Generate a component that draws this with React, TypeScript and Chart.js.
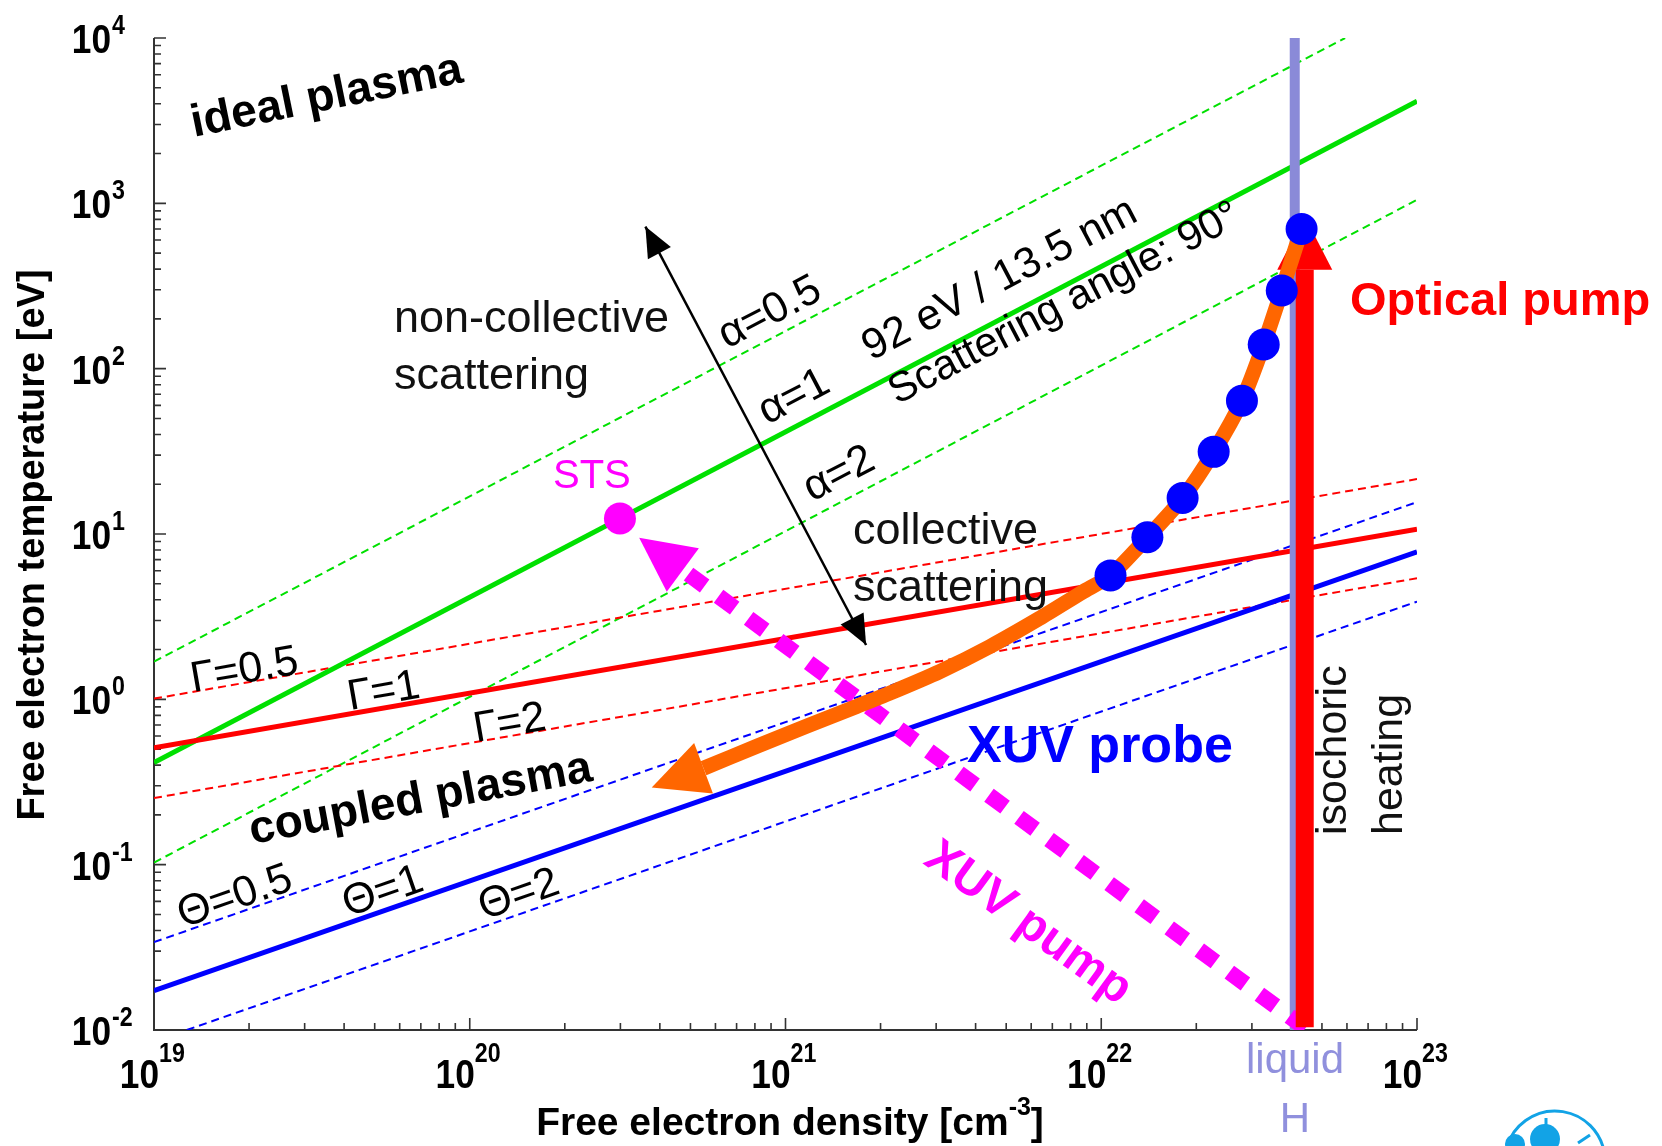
import React, { useEffect, useRef } from 'react';
import { Chart, registerables } from 'chart.js';

Chart.register(...registerables);

// ---------------- data ----------------
const densityMin = 1e19;
const densityMax = 1e23;
const tempMin = 1e-2;
const tempMax = 1e4;

const xMajorTicks = [1e19, 1e20, 1e21, 1e22, 1e23];
const xTickExponents = ['19', '20', '21', '22', '23'];
const yMajorTicks = [1e-2, 1e-1, 1, 1e1, 1e2, 1e3, 1e4];
const yTickExponents = ['-2', '-1', '0', '1', '2', '3', '4'];
const minorMultipliers = [2, 3, 4, 5, 6, 7, 8, 9];

// parameter lines (density endpoints, temperature endpoints)
const fullDensity = [1e19, 1e23];
const alpha05Density = [1e19, 5.92e22];
const alpha05Temp = [1.69, 1e4];
const alpha1Temp = [0.415, 4150];
const alpha2Temp = [0.103, 1050];
const gamma05Temp = [1.01, 21.5];
const gamma1Temp = [0.51, 10.7];
const gamma2Temp = [0.253, 5.4];
const theta05Temp = [0.034, 15.6];
const theta1Temp = [0.0173, 7.8];
const theta2Density = [1.27e19, 1e23];
const theta2Temp = [0.01, 3.9];

// liquid hydrogen density
const liquidHDensity = [4.1e22, 4.1e22];
const liquidHTemp = [1e-2, 1e4];

// optical pump (isochoric heating) arrow
const opticalPumpDensity = [4.41e22, 4.41e22];
const opticalPumpTemp = [0.0104, 397];
const opticalPumpTip = [4.41e22, 834];

// XUV pump arrow
const xuvPumpDensity = [4.435e22, 4.73e20];
const xuvPumpTemp = [0.01026, 6.06];
const xuvPumpTip = [3.44e20, 9.5];

// relaxation path (orange)
const pathDensity = [4.31e22, 3.73e22, 3.27e22, 2.79e22, 2.27e22, 1.81e22, 1.40e22, 1.07e22, 8.7e21, 6.36e21, 4.43e21, 3.08e21, 2.14e21, 1.68e21, 1.17e21, 8.15e20, 5.5e20];
const pathTemp = [700, 297, 140, 64, 31.4, 16.5, 9.55, 5.62, 4.44, 3.08, 2.08, 1.47, 1.09, 0.906, 0.69, 0.522, 0.383];
const pathTip = [3.77e20, 0.293];

// simulation points (blue dots)
const simDensity = [4.31e22, 3.73e22, 3.27e22, 2.79e22, 2.27e22, 1.81e22, 1.40e22, 1.07e22];
const simTemp = [700, 297, 140, 64, 31.4, 16.5, 9.55, 5.62];

// STS point
const stsDensity = [2.99e20];
const stsTemp = [12.4];

// collective / non-collective double arrow
const scatterArrowDensity = [3.6e20, 1.8e21];
const scatterArrowTemp = [723, 2.13];

// ---------------- styles ----------------
const FONT = "'Liberation Sans', Arial, sans-serif";
const GREEN = '#00e000';
const RED = '#ff0000';
const BLUE = '#0000ff';
const LAVENDER = '#8a8ad8';
const MAGENTA = '#ff00ff';
const ORANGE = '#ff6600';
const DASH = [8, 5];

const pts = (xs: number[], ys: number[]) => xs.map((x, i) => ({ x, y: ys[i] }));

function lineDs(xs: number[], ys: number[], color: string, width: number, dash: number[] = [], extra: any = {}) {
  return {
    data: pts(xs, ys),
    showLine: true,
    borderColor: color,
    backgroundColor: color,
    borderWidth: width,
    borderDash: dash,
    borderCapStyle: 'butt',
    pointRadius: 0,
    pointHoverRadius: 0,
    tension: 0,
    fill: false,
    ...extra,
  };
}

function pointDs(xs: number[], ys: number[], color: string, radius: number) {
  return {
    data: pts(xs, ys),
    showLine: false,
    backgroundColor: color,
    borderColor: color,
    borderWidth: 0,
    pointRadius: radius,
    pointHoverRadius: radius,
    clip: false,
  };
}

const annotations = [
  { text: 'ideal plasma', x: 194, y: 137, angle: -11.5, font: `bold 46px ${FONT}`, color: '#000' },
  { text: 'non-collective', x: 394, y: 332, angle: 0, font: `45px ${FONT}`, color: '#111' },
  { text: 'scattering', x: 394, y: 389, angle: 0, font: `45px ${FONT}`, color: '#111' },
  { text: 'collective', x: 853, y: 544, angle: 0, font: `45px ${FONT}`, color: '#111' },
  { text: 'scattering', x: 853, y: 601, angle: 0, font: `45px ${FONT}`, color: '#111' },
  { text: 'α=0.5', x: 727, y: 349, angle: -27.7, font: `43px ${FONT}`, color: '#000' },
  { text: 'α=1', x: 767, y: 425, angle: -27.7, font: `43px ${FONT}`, color: '#000' },
  { text: 'α=2', x: 812, y: 502, angle: -27.7, font: `43px ${FONT}`, color: '#000' },
  { text: '92 eV / 13.5 nm', x: 871, y: 361, angle: -27.7, font: `43px ${FONT}`, color: '#000' },
  { text: 'Scattering angle: 90°', x: 897, y: 405, angle: -27.7, font: `42px ${FONT}`, color: '#000' },
  { text: 'STS', x: 553, y: 488, angle: 0, font: `40px ${FONT}`, color: MAGENTA },
  { text: 'Γ=0.5', x: 193, y: 692, angle: -9.9, font: `43px ${FONT}`, color: '#000' },
  { text: 'Γ=1', x: 350, y: 710, angle: -9.9, font: `43px ${FONT}`, color: '#000' },
  { text: 'Γ=2', x: 476, y: 742, angle: -9.9, font: `43px ${FONT}`, color: '#000' },
  { text: 'coupled plasma', x: 252, y: 844, angle: -10.5, font: `bold 46px ${FONT}`, color: '#000' },
  { text: 'Θ=0.5', x: 183, y: 928, angle: -19.2, font: `43px ${FONT}`, color: '#000' },
  { text: 'Θ=1', x: 348, y: 917, angle: -19.2, font: `43px ${FONT}`, color: '#000' },
  { text: 'Θ=2', x: 484, y: 920, angle: -19.2, font: `43px ${FONT}`, color: '#000' },
  { text: 'XUV probe', x: 967, y: 762, angle: 0, font: `bold 52px ${FONT}`, color: BLUE },
  { text: 'Optical pump', x: 1350, y: 315, angle: 0, font: `bold 47px ${FONT}`, color: RED },
  { text: 'XUV pump', x: 922, y: 863, angle: 36, font: `bold 48px ${FONT}`, color: MAGENTA },
  { text: 'isochoric', x: 1346, y: 835, angle: -90, font: `43px ${FONT}`, color: '#111' },
  { text: 'heating', x: 1402, y: 835, angle: -90, font: `43px ${FONT}`, color: '#111' },
  { text: 'liquid', x: 1295, y: 1073, angle: 0, font: `42px ${FONT}`, color: '#9090dd', align: 'center' },
  { text: 'H', x: 1295, y: 1132, angle: 0, font: `42px ${FONT}`, color: '#9090dd', align: 'center' },
];

function drawText(ctx: CanvasRenderingContext2D, text: string, x: number, y: number, font: string, color: string, angle = 0, align: CanvasTextAlign = 'left', scaleX = 1) {
  ctx.save();
  ctx.translate(x, y);
  ctx.rotate((angle * Math.PI) / 180);
  ctx.scale(scaleX, 1);
  ctx.font = font;
  ctx.fillStyle = color;
  ctx.textAlign = align;
  ctx.textBaseline = 'alphabetic';
  ctx.fillText(text, 0, 0);
  ctx.restore();
}

function drawHead(ctx: CanvasRenderingContext2D, bx: number, by: number, tx: number, ty: number, width: number, color: string) {
  const dx = tx - bx;
  const dy = ty - by;
  const L = Math.hypot(dx, dy) || 1;
  const nx = -dy / L;
  const ny = dx / L;
  ctx.save();
  ctx.fillStyle = color;
  ctx.beginPath();
  ctx.moveTo(tx, ty);
  ctx.lineTo(bx + (nx * width) / 2, by + (ny * width) / 2);
  ctx.lineTo(bx - (nx * width) / 2, by - (ny * width) / 2);
  ctx.closePath();
  ctx.fill();
  ctx.restore();
}

const TICK_FONT = `bold 41px ${FONT}`;
const SUP_FONT = `bold 27px ${FONT}`;
const TICK_SX = 0.86;

const decorPlugin = {
  id: 'decor',
  beforeDatasetsDraw(chart: any) {
    const ctx: CanvasRenderingContext2D = chart.ctx;
    const xs = chart.scales.x;
    const ys = chart.scales.y;
    const { left, right, top, bottom } = chart.chartArea;
    ctx.save();
    ctx.strokeStyle = '#333';
    ctx.lineWidth = 2;
    ctx.beginPath();
    ctx.moveTo(left, top);
    ctx.lineTo(left, bottom);
    ctx.lineTo(right, bottom);
    ctx.stroke();
    ctx.lineWidth = 1.6;
    ctx.beginPath();
    xMajorTicks.forEach((v, i) => {
      const xp = xs.getPixelForValue(v);
      ctx.moveTo(xp, bottom);
      ctx.lineTo(xp, bottom - 12);
      if (i < xMajorTicks.length - 1) {
        minorMultipliers.forEach((m) => {
          const mp = xs.getPixelForValue(v * m);
          ctx.moveTo(mp, bottom);
          ctx.lineTo(mp, bottom - 7);
        });
      }
    });
    yMajorTicks.forEach((v, i) => {
      const yp = ys.getPixelForValue(v);
      ctx.moveTo(left, yp);
      ctx.lineTo(left + 12, yp);
      if (i < yMajorTicks.length - 1) {
        minorMultipliers.forEach((m) => {
          const mp = ys.getPixelForValue(v * m);
          ctx.moveTo(left, mp);
          ctx.lineTo(left + 7, mp);
        });
      }
    });
    ctx.stroke();
    ctx.restore();

    // tick labels
    xMajorTicks.forEach((v, i) => {
      const xp = xs.getPixelForValue(v);
      drawText(ctx, '10', xp + 5, bottom + 58, TICK_FONT, '#000', 0, 'right', TICK_SX);
      drawText(ctx, xTickExponents[i], xp + 5, bottom + 32, SUP_FONT, '#000', 0, 'left', TICK_SX);
    });
    yMajorTicks.forEach((v, i) => {
      const yp = ys.getPixelForValue(v);
      drawText(ctx, '10', 111, yp + 15, TICK_FONT, '#000', 0, 'right', TICK_SX);
      drawText(ctx, yTickExponents[i], 112, yp - 4, SUP_FONT, '#000', 0, 'left', TICK_SX);
    });
  },
  afterDatasetDraw(chart: any, args: any) {
    const ds = chart.data.datasets[args.index];
    const ctx: CanvasRenderingContext2D = chart.ctx;
    const xs = chart.scales.x;
    const ys = chart.scales.y;
    const data = ds.data;
    if (ds.headTip) {
      const last = data[data.length - 1];
      const bx = xs.getPixelForValue(last.x);
      const by = ys.getPixelForValue(last.y);
      const tx = xs.getPixelForValue(ds.headTip[0]);
      const ty = ys.getPixelForValue(ds.headTip[1]);
      drawHead(ctx, bx, by, tx, ty, ds.headWidth, ds.borderColor);
    }
    if (ds.doubleHead) {
      const p0 = { x: xs.getPixelForValue(data[0].x), y: ys.getPixelForValue(data[0].y) };
      const p1 = { x: xs.getPixelForValue(data[1].x), y: ys.getPixelForValue(data[1].y) };
      const L = Math.hypot(p1.x - p0.x, p1.y - p0.y);
      const ux = (p1.x - p0.x) / L;
      const uy = (p1.y - p0.y) / L;
      const len = ds.doubleHead.len;
      drawHead(ctx, p0.x + ux * len, p0.y + uy * len, p0.x, p0.y, ds.doubleHead.width, ds.borderColor);
      drawHead(ctx, p1.x - ux * len, p1.y - uy * len, p1.x, p1.y, ds.doubleHead.width, ds.borderColor);
    }
  },
  afterDraw(chart: any) {
    const ctx: CanvasRenderingContext2D = chart.ctx;
    annotations.forEach((a: any) => {
      drawText(ctx, a.text, a.x, a.y, a.font, a.color, a.angle, a.align || 'left');
    });
    // axis titles
    drawText(ctx, 'Free electron temperature [eV]', 44, 545, `bold 38px ${FONT}`, '#000', -90, 'center');
    ctx.save();
    const mainFont = `bold 39px ${FONT}`;
    const supFont = `bold 25px ${FONT}`;
    ctx.font = mainFont;
    const w1 = ctx.measureText('Free electron density [cm').width;
    const w3 = ctx.measureText(']').width;
    ctx.font = supFont;
    const w2 = ctx.measureText('-3').width;
    ctx.restore();
    const total = w1 + w2 + w3;
    const x0 = 790 - total / 2;
    drawText(ctx, 'Free electron density [cm', x0, 1135, mainFont, '#000');
    drawText(ctx, '-3', x0 + w1, 1115, supFont, '#000');
    drawText(ctx, ']', x0 + w1 + w2, 1135, mainFont, '#000');

    // partial logo (bottom right corner)
    ctx.save();
    ctx.strokeStyle = '#12a3e6';
    ctx.fillStyle = '#12a3e6';
    ctx.lineWidth = 3;
    ctx.beginPath();
    ctx.arc(1555, 1161, 50, Math.PI * 1.05, Math.PI * 1.95);
    ctx.stroke();
    ctx.beginPath();
    ctx.arc(1545, 1139, 15, 0, Math.PI * 2);
    ctx.fill();
    ctx.beginPath();
    ctx.arc(1515, 1144, 10, 0, Math.PI * 2);
    ctx.fill();
    ctx.beginPath();
    ctx.moveTo(1546, 1118);
    ctx.lineTo(1546, 1128);
    ctx.moveTo(1578, 1143);
    ctx.lineTo(1590, 1135);
    ctx.stroke();
    ctx.restore();
  },
};

export default function App() {
  const canvasRef = useRef<HTMLCanvasElement | null>(null);

  useEffect(() => {
    if (!canvasRef.current) return;
    const layers: any[] = [
      lineDs(alpha05Density, alpha05Temp, GREEN, 2, DASH),
      lineDs(fullDensity, alpha2Temp, GREEN, 2, DASH),
      lineDs(fullDensity, gamma05Temp, RED, 2, DASH),
      lineDs(fullDensity, gamma2Temp, RED, 2, DASH),
      lineDs(fullDensity, theta05Temp, BLUE, 2, DASH),
      lineDs(theta2Density, theta2Temp, BLUE, 2, DASH),
      lineDs(fullDensity, alpha1Temp, GREEN, 5),
      lineDs(fullDensity, gamma1Temp, RED, 5),
      lineDs(fullDensity, theta1Temp, BLUE, 5),
      lineDs(liquidHDensity, liquidHTemp, LAVENDER, 10),
      lineDs(xuvPumpDensity, xuvPumpTemp, MAGENTA, 16, [20, 17.3], { headTip: xuvPumpTip, headWidth: 54 }),
      lineDs(opticalPumpDensity, opticalPumpTemp, RED, 18, [], { headTip: opticalPumpTip, headWidth: 55 }),
      lineDs(pathDensity, pathTemp, ORANGE, 15, [], { tension: 0.25, headTip: pathTip, headWidth: 54, borderJoinStyle: 'round' }),
      lineDs(scatterArrowDensity, scatterArrowTemp, '#000', 2.5, [], { doubleHead: { len: 30, width: 26 } }),
      pointDs(simDensity, simTemp, BLUE, 16),
      pointDs(stsDensity, stsTemp, MAGENTA, 16),
    ];
    const n = layers.length;
    layers.forEach((d, i) => {
      d.order = n - i;
    });

    const chart = new Chart(canvasRef.current, {
      type: 'scatter',
      data: { datasets: layers },
      options: {
        responsive: false,
        animation: false,
        devicePixelRatio: 1,
        events: [],
        layout: { padding: { left: 146, top: 38, right: 245, bottom: 108 } },
        plugins: { legend: { display: false }, tooltip: { enabled: false } },
        scales: {
          x: {
            type: 'logarithmic',
            min: densityMin,
            max: densityMax,
            grid: { display: false },
            border: { display: false },
            ticks: { display: false },
            title: { display: false },
          },
          y: {
            type: 'logarithmic',
            min: tempMin,
            max: tempMax,
            grid: { display: false },
            border: { display: false },
            ticks: { display: false },
            title: { display: false },
          },
        },
      } as any,
      plugins: [decorPlugin as any],
    });
    return () => chart.destroy();
  }, []);

  return (
    <div style={{ position: 'absolute', left: 0, top: 0, width: 1662, height: 1146, background: '#fff' }}>
      <canvas ref={canvasRef} width={1662} height={1146} style={{ width: 1662, height: 1146, display: 'block' }} />
    </div>
  );
}
